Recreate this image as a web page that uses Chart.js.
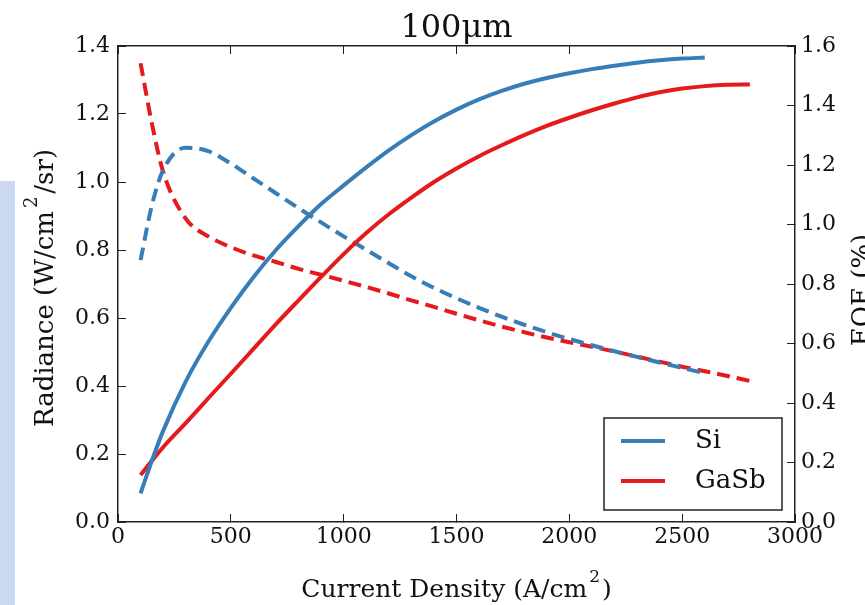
<!DOCTYPE html>
<html>
<head>
<meta charset="utf-8">
<script src="https://cdn.jsdelivr.net/npm/chart.js@4.4.1/dist/chart.umd.min.js"></script>
<style>
  body { margin: 0; background: #fff; }
  #wrap { position: relative; width: 865px; height: 605px; }
  #sidebar { position: absolute; left: 0; top: 181px; width: 15px; height: 424px; background: #cbdaf0; }
  #chart { position: absolute; left: 0; top: 0; }
</style>
</head>
<body>
<div id="wrap">
  <div id="sidebar"></div>
  <canvas id="chart" width="865" height="605"></canvas>
</div>
<script>
// ===== Data =====
const current = [100, 150, 200, 300, 400, 500, 600, 700, 800, 900, 1000, 1100, 1200, 1300, 1400,
  1500, 1600, 1700, 1800, 1900, 2000, 2100, 2200, 2300, 2400, 2500, 2600, 2700, 2800];

// Radiance (W/cm^2/sr), left axis
const siRadiance = [0.084, 0.18, 0.268, 0.413, 0.53, 0.63, 0.72, 0.80, 0.87, 0.935, 0.99, 1.043, 1.093, 1.138, 1.178,
  1.213, 1.243, 1.268, 1.289, 1.306, 1.32, 1.332, 1.342, 1.351, 1.358, 1.363, 1.366];
const gasbRadiance = [0.138, 0.18, 0.22, 0.291, 0.364, 0.436, 0.509, 0.582, 0.652, 0.721, 0.788, 0.85, 0.905, 0.954, 1.0,
  1.04, 1.076, 1.108, 1.138, 1.165, 1.189, 1.211, 1.231, 1.249, 1.264, 1.275, 1.282, 1.286, 1.287];

// EQE (%), right axis
const siEqe = [0.88, 1.064, 1.183, 1.258, 1.247, 1.205, 1.155, 1.105, 1.055, 1.007, 0.96, 0.915, 0.87, 0.826, 0.787,
  0.752, 0.72, 0.69, 0.663, 0.638, 0.615, 0.594, 0.574, 0.555, 0.536, 0.518, 0.5];
const gasbEqe = [1.542, 1.34, 1.177, 1.02, 0.96, 0.924, 0.896, 0.874, 0.851, 0.831, 0.811, 0.79, 0.768, 0.745, 0.723,
  0.70, 0.678, 0.657, 0.638, 0.62, 0.604, 0.589, 0.573, 0.556, 0.539, 0.522, 0.507, 0.491, 0.474];

const xTicks = [0, 500, 1000, 1500, 2000, 2500, 3000];
const seriesNames = ['Si', 'GaSb'];

const BLUE = '#377eb8';
const RED = '#e41a1c';
const INK = '#222';
const SERIF = "'DejaVu Serif', serif";

const pts = (ys) => ys.map((y, i) => ({ x: current[i], y }));

function line(label, ys, color, axis, dashed) {
  return {
    label, data: pts(ys), yAxisID: axis,
    borderColor: color, backgroundColor: color,
    borderWidth: 4, borderDash: dashed ? [13, 7] : [],
    pointRadius: 0, cubicInterpolationMode: 'monotone', fill: false
  };
}

// draws a label made of pieces (main text + raised superscript), centred at (cx, cy)
function drawPieces(ctx, pieces, cx, cy, rot) {
  ctx.save();
  ctx.translate(cx, cy);
  ctx.rotate(rot);
  ctx.textBaseline = 'alphabetic';
  ctx.textAlign = 'left';
  ctx.fillStyle = '#111';
  let total = 0;
  pieces.forEach(p => { ctx.font = p.font; p.w = ctx.measureText(p.text).width + (p.gap || 0); total += p.w; });
  let x = -total / 2;
  pieces.forEach(p => { ctx.font = p.font; ctx.fillText(p.text, x + (p.gap || 0) / 2, -(p.rise || 0)); x += p.w; });
  ctx.restore();
}

const overlay = {
  id: 'overlay',
  afterDraw(chart) {
    const ctx = chart.ctx;
    const a = chart.chartArea;
    const cx = (a.left + a.right) / 2;

    // title
    drawPieces(ctx, [{ text: '100μm', font: '32px ' + SERIF }], cx, 37, 0);

    // axis titles
    drawPieces(ctx, [
      { text: 'Current Density (A/cm', font: '25px ' + SERIF },
      { text: '2', font: '17px ' + SERIF, rise: 15, gap: 4 },
      { text: ')', font: '25px ' + SERIF }
    ], cx, 597, 0);
    drawPieces(ctx, [
      { text: 'Radiance (W/cm', font: '26px ' + SERIF },
      { text: '2', font: '18px ' + SERIF, rise: 16, gap: 6 },
      { text: '/sr)', font: '26px ' + SERIF }
    ], 53, 288, -Math.PI / 2);
    drawPieces(ctx, [{ text: 'EQE (%)', font: '26px ' + SERIF }], 870, 290, -Math.PI / 2);

    // legend inside the plot, lower right
    const bx = 604, by = 418, bw = 178, bh = 92;
    ctx.save();
    ctx.fillStyle = '#fff';
    ctx.fillRect(bx, by, bw, bh);
    ctx.strokeStyle = INK;
    ctx.lineWidth = 1.5;
    ctx.strokeRect(bx, by, bw, bh);
    [BLUE, RED].forEach((c, i) => {
      const y = 441 + i * 40;
      ctx.strokeStyle = c;
      ctx.lineWidth = 4;
      ctx.beginPath();
      ctx.moveTo(621, y);
      ctx.lineTo(665, y);
      ctx.stroke();
      ctx.fillStyle = '#111';
      ctx.font = '26px ' + SERIF;
      ctx.textBaseline = 'middle';
      ctx.fillText(seriesNames[i], 695, y);
    });
    ctx.restore();
  }
};

const tickFont = { family: SERIF, size: 22 };
const inwardGrid = { drawOnChartArea: false, tickLength: -8, color: INK, lineWidth: 1 };
const frame = { color: INK, width: 1.5 };

new Chart(document.getElementById('chart'), {
  type: 'line',
  data: {
    datasets: [
      line(seriesNames[0], siRadiance, BLUE, 'y', false),
      line(seriesNames[1], gasbRadiance, RED, 'y', false),
      line('Si EQE', siEqe, BLUE, 'y1', true),
      line('GaSb EQE', gasbEqe, RED, 'y1', true)
    ]
  },
  options: {
    responsive: false,
    animation: false,
    devicePixelRatio: 1,
    layout: { padding: 0 },
    plugins: { legend: { display: false }, tooltip: { enabled: false }, title: { display: false } },
    scales: {
      x: {
        type: 'linear', position: 'bottom', min: xTicks[0], max: xTicks[xTicks.length - 1],
        afterBuildTicks: s => { s.ticks = xTicks.map(v => ({ value: v })); },
        ticks: { font: tickFont, color: '#111', padding: 10, maxRotation: 0, callback: v => String(v) },
        grid: inwardGrid, border: frame,
        afterFit: s => { s.height = 83; }
      },
      x2: {
        type: 'linear', position: 'top', min: xTicks[0], max: xTicks[xTicks.length - 1],
        afterBuildTicks: s => { s.ticks = xTicks.map(v => ({ value: v })); },
        ticks: { display: false },
        grid: inwardGrid, border: frame,
        afterFit: s => { s.height = 46; }
      },
      y: {
        position: 'left', min: 0, max: 1.4,
        ticks: { stepSize: 0.2, font: tickFont, color: '#111', padding: 16, callback: v => Number(v).toFixed(1) },
        grid: inwardGrid, border: frame,
        afterFit: s => { s.width = 118; }
      },
      y1: {
        position: 'right', min: 0, max: 1.6,
        ticks: { stepSize: 0.2, font: tickFont, color: '#111', padding: 14, callback: v => Number(v).toFixed(1) },
        grid: inwardGrid, border: frame,
        afterFit: s => { s.width = 70; }
      }
    }
  },
  plugins: [overlay]
});
</script>
</body>
</html>
